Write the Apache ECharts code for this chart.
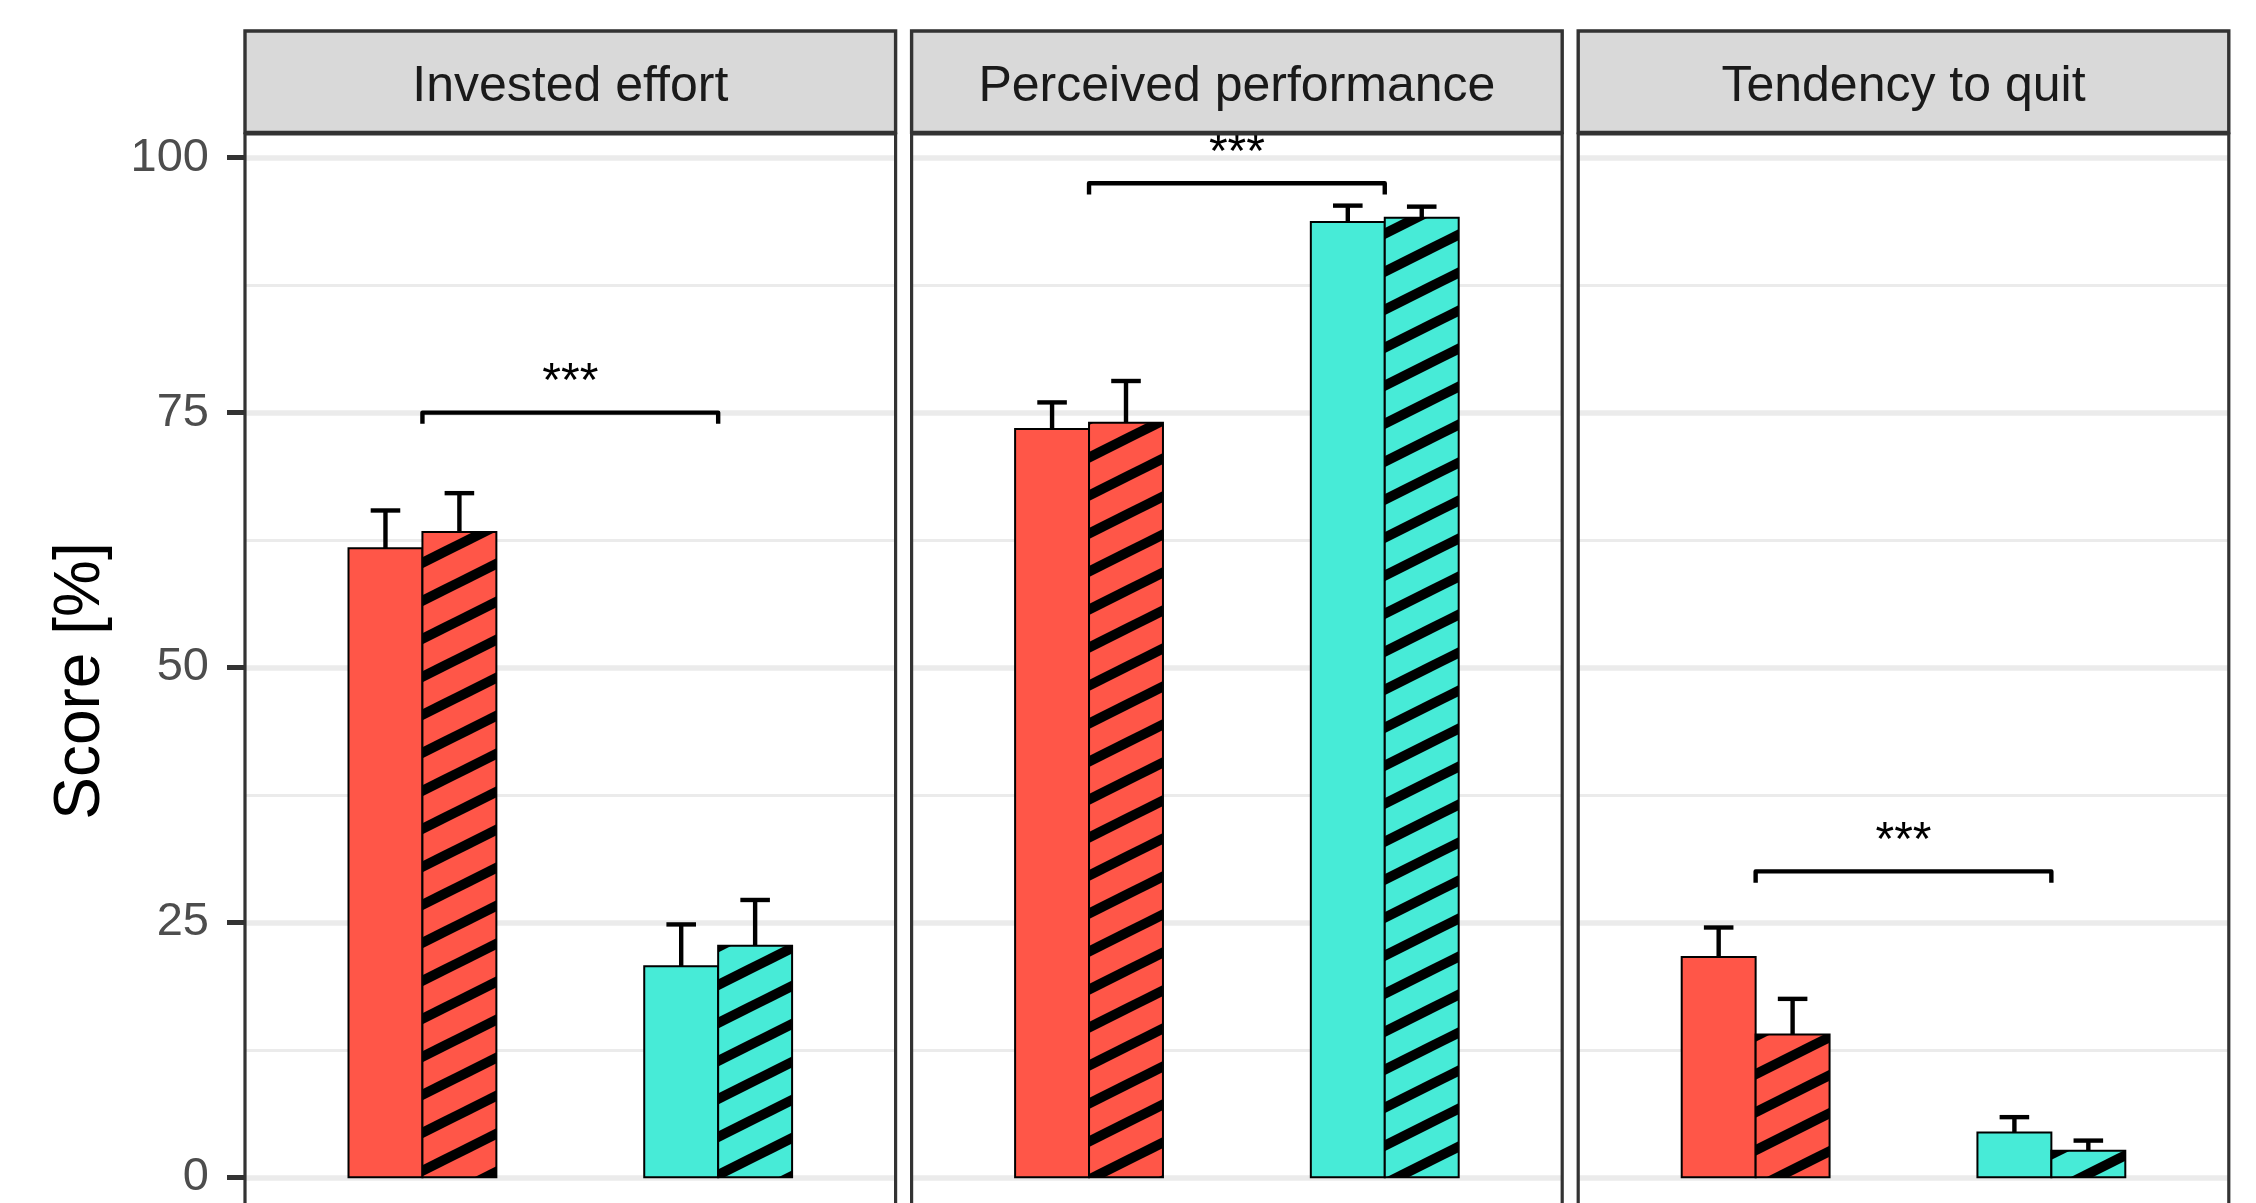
<!DOCTYPE html>
<html>
<head>
<meta charset="utf-8">
<title>Score [%]</title>
<script src="https://cdn.jsdelivr.net/npm/echarts@6/dist/echarts.min.js"></script>
<style>
  html, body { margin: 0; padding: 0; background: #fff; overflow: hidden; }
  /* the panels run past the bottom edge, so the chart is taller than the window and clipped */
  #wrap { position: relative; width: 2256px; height: 1203px; overflow: hidden; }
  #chart { position: absolute; left: 0; top: -100px; width: 2256px; height: 1540px; }
</style>
</head>
<body>
<div id="wrap"><div id="chart"></div></div>
<script>
  // facet titles and y ticks
  const panelTitles = ["Invested effort", "Perceived performance", "Tendency to quit"];
  const yTicks = [0, 25, 50, 75, 100];

  // bar heights, one value per facet
  const redPlain = [61.7, 73.4, 21.6];
  const redHatched = [63.3, 74.0, 14.0];
  const tealPlain = [20.7, 93.7, 4.4];
  const tealHatched = [22.7, 94.1, 2.6];

  // top of each error bar
  const redPlainUpper = [65.4, 76.0, 24.5];
  const redHatchedUpper = [67.1, 78.1, 17.5];
  const tealPlainUpper = [24.8, 95.3, 5.9];
  const tealHatchedUpper = [27.2, 95.2, 3.6];

  // significance brackets between the two groups
  const bracketLevel = [75.0, 97.5, 30.0];
  const bracketStars = ["***", "***", "***"];

  const RED = "#FF5648";
  const TEAL = "#47EBD7";
  const FONT = "\"Liberation Sans\", Arial, sans-serif";

  // layout in page px; SHIFT is how far the chart div sits above the page top
  const SHIFT = 100;
  const pxPerUnit = 10.196;
  const zeroY = 1177.3 + SHIFT;
  const yMin = -25;
  const yMax = 125;
  const panelLeft = [245, 911.6, 1578.2];
  const panelWidth = 650.6;
  const stripTop = 31 + SHIFT;
  const stripBottom = 132.5 + SHIFT;
  const plotTop = 134 + SHIFT;

  const barWidth = 0.25;
  const capWidth = 0.1;
  const tipLength = 1.1;
  const starOffset = 2.9;

  function hatchTile(bg) {
    const c = document.createElement("canvas");
    c.width = 76;
    c.height = 38;
    const ctx = c.getContext("2d");
    ctx.fillStyle = bg;
    ctx.fillRect(0, 0, 76, 38);
    ctx.strokeStyle = "#000";
    ctx.lineWidth = 10;
    for (let k = -1; k <= 3; k++) {
      ctx.beginPath();
      ctx.moveTo(-76, 38 * k + 38);
      ctx.lineTo(152, 38 * k - 76);
      ctx.stroke();
    }
    return c;
  }

  const fills = [
    RED,
    { image: hatchTile(RED), repeat: "repeat" },
    TEAL,
    { image: hatchTile(TEAL), repeat: "repeat" }
  ];

  const chart = echarts.init(document.getElementById("chart"), null, { renderer: "canvas" });

  const grids = [];
  const xAxes = [];
  const yAxes = [];
  const series = [];
  const graphics = [];

  panelTitles.forEach((title, i) => {
    grids.push({
      left: panelLeft[i],
      width: panelWidth,
      top: zeroY - yMax * pxPerUnit,
      height: (yMax - yMin) * pxPerUnit
    });
    xAxes.push({
      gridIndex: i,
      type: "value",
      min: 0.4,
      max: 2.6,
      show: false
    });
    yAxes.push({
      gridIndex: i,
      type: "value",
      min: yMin,
      max: yMax,
      interval: 25,
      axisLine: { show: false },
      axisTick: {
        show: i === 0,
        length: 18,
        lineStyle: { color: "#333333", width: 5 }
      },
      axisLabel: {
        show: i === 0,
        margin: 36,
        color: "#4D4D4D",
        fontSize: 47,
        fontFamily: FONT,
        formatter: v => (yTicks.indexOf(v) >= 0 ? String(v) : "")
      },
      splitLine: { lineStyle: { color: "#EBEBEB", width: 5.5 } },
      minorTick: { show: false, splitNumber: 2 },
      minorSplitLine: { show: true, lineStyle: { color: "#EBEBEB", width: 2.8 } }
    });

    // group 1 (red) at x = 1, group 2 (teal) at x = 2, dodged
    const bars = [
      [1 - barWidth, 1, redPlain[i], 0],
      [1, 1 + barWidth, redHatched[i], 1],
      [2 - barWidth, 2, tealPlain[i], 2],
      [2, 2 + barWidth, tealHatched[i], 3]
    ];
    const errs = [
      [1 - barWidth / 2, redPlain[i], redPlainUpper[i]],
      [1 + barWidth / 2, redHatched[i], redHatchedUpper[i]],
      [2 - barWidth / 2, tealPlain[i], tealPlainUpper[i]],
      [2 + barWidth / 2, tealHatched[i], tealHatchedUpper[i]]
    ];

    series.push({
      type: "custom",
      xAxisIndex: i,
      yAxisIndex: i,
      z: 3,
      silent: true,
      data: errs,
      renderItem(params, api) {
        const base = api.coord([api.value(0), api.value(1)]);
        const top = api.coord([api.value(0), api.value(2)]);
        const half = api.size([capWidth, 0])[0] / 2;
        const st = { stroke: "#000", lineWidth: 4.4 };
        return {
          type: "group",
          children: [
            { type: "line", shape: { x1: top[0], y1: base[1], x2: top[0], y2: top[1] }, style: st },
            { type: "line", shape: { x1: top[0] - half, y1: top[1], x2: top[0] + half, y2: top[1] }, style: st }
          ]
        };
      }
    });

    series.push({
      type: "custom",
      xAxisIndex: i,
      yAxisIndex: i,
      z: 4,
      silent: true,
      data: bars,
      renderItem(params, api) {
        const p0 = api.coord([api.value(0), api.value(2)]);
        const p1 = api.coord([api.value(1), 0]);
        return {
          type: "rect",
          shape: { x: p0[0], y: p0[1], width: p1[0] - p0[0], height: p1[1] - p0[1] },
          style: { fill: fills[api.value(3)], stroke: "#000", lineWidth: 2 }
        };
      }
    });

    series.push({
      type: "custom",
      xAxisIndex: i,
      yAxisIndex: i,
      z: 5,
      silent: true,
      data: [[1, 2, bracketLevel[i]]],
      renderItem(params, api) {
        const lvl = api.value(2);
        const a = api.coord([api.value(0), lvl - tipLength]);
        const b = api.coord([api.value(0), lvl]);
        const c = api.coord([api.value(1), lvl]);
        const d = api.coord([api.value(1), lvl - tipLength]);
        const mid = api.coord([(api.value(0) + api.value(1)) / 2, lvl + starOffset]);
        return {
          type: "group",
          children: [
            {
              type: "polyline",
              shape: { points: [a, b, c, d] },
              style: { stroke: "#000", lineWidth: 4.4, fill: null, lineJoin: "round" }
            },
            {
              type: "text",
              x: mid[0],
              y: mid[1],
              style: {
                text: bracketStars[i],
                fill: "#000",
                fontSize: 48,
                fontFamily: FONT,
                align: "center",
                verticalAlign: "middle"
              }
            }
          ]
        };
      }
    });

    // facet strip and panel frame
    graphics.push({
      type: "rect",
      z: 100,
      silent: true,
      shape: { x: panelLeft[i], y: stripTop, width: panelWidth, height: stripBottom - stripTop },
      style: { fill: "#D9D9D9", stroke: "#333333", lineWidth: 3.4 }
    });
    graphics.push({
      type: "text",
      z: 101,
      silent: true,
      x: panelLeft[i] + panelWidth / 2,
      y: (stripTop + stripBottom) / 2 + 5,
      style: {
        text: title,
        fill: "#1A1A1A",
        fontSize: 50,
        fontFamily: FONT,
        align: "center",
        verticalAlign: "middle"
      }
    });
    graphics.push({
      type: "rect",
      z: 100,
      silent: true,
      shape: { x: panelLeft[i], y: plotTop, width: panelWidth, height: 1400 - plotTop },
      style: { fill: null, stroke: "#333333", lineWidth: 3.2 }
    });
  });

  graphics.push({
    type: "text",
    z: 101,
    silent: true,
    x: 81,
    y: 681 + SHIFT,
    rotation: Math.PI / 2,
    style: {
      text: "Score [%]",
      fill: "#000",
      fontSize: 64,
      fontFamily: FONT,
      align: "center",
      verticalAlign: "middle"
    }
  });

  chart.setOption({
    animation: false,
    backgroundColor: "#fff",
    grid: grids,
    xAxis: xAxes,
    yAxis: yAxes,
    series: series,
    graphic: { elements: graphics }
  });
</script>
</body>
</html>
